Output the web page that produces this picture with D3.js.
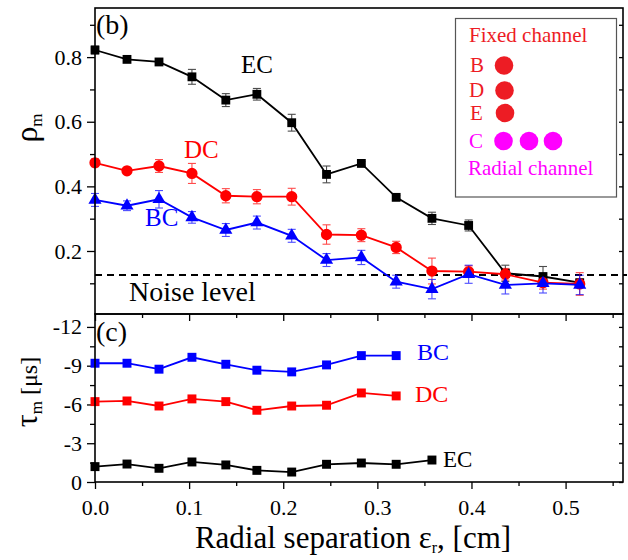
<!DOCTYPE html>
<html>
<head>
<meta charset="utf-8">
<script src="https://cdn.jsdelivr.net/npm/d3@7"></script>
<style>
  html, body { margin: 0; padding: 0; background: #fff; }
  svg { display: block; }
</style>
</head>
<body>
<svg id="chart" width="628" height="560"></svg>
<script>
// Radial separation of the moving channel [cm]
const xSep = [0, 0.034, 0.068, 0.103, 0.139, 0.172, 0.209, 0.246, 0.283, 0.32, 0.358, 0.397, 0.436, 0.476, 0.515];

// Panel (b): maximum cross-correlation rho_m with error bars
const rhoEC = [0.822, 0.793, 0.785, 0.739, 0.667, 0.685, 0.597, 0.437, 0.471, 0.366, 0.301, 0.279, 0.131, 0.121, 0.102];
const errEC = [0.012, 0.005, 0.005, 0.023, 0.020, 0.018, 0.026, 0.026, 0.006, 0.006, 0.019, 0.017, 0.025, 0.031, 0.010];
const rhoDC = [0.473, 0.448, 0.463, 0.440, 0.371, 0.368, 0.368, 0.251, 0.249, 0.211, 0.138, 0.136, 0.128, 0.102, 0.098];
const errDC = [0.012, 0.008, 0.020, 0.031, 0.022, 0.022, 0.026, 0.030, 0.020, 0.019, 0.040, 0.018, 0.018, 0.020, 0.035];
const rhoBC = [0.358, 0.340, 0.360, 0.304, 0.265, 0.288, 0.247, 0.172, 0.180, 0.105, 0.082, 0.128, 0.095, 0.100, 0.095];
const errBC = [0.020, 0.015, 0.027, 0.018, 0.020, 0.020, 0.020, 0.020, 0.022, 0.020, 0.030, 0.028, 0.028, 0.030, 0.030];
const noiseLevel = 0.126;

// Panel (c): time lag tau_m [us]
const tauBC = [-9.19, -9.19, -8.73, -9.65, -9.11, -8.65, -8.52, -9.06, -9.78, -9.78];
const tauDC = [-6.22, -6.27, -5.88, -6.43, -6.22, -5.55, -5.88, -5.94, -6.89, -6.66];
const tauEC = [-1.19, -1.39, -1.06, -1.55, -1.32, -0.90, -0.77, -1.37, -1.47, -1.37, -1.70];

// Tick values
const xTicks = [0, 0.1, 0.2, 0.3, 0.4, 0.5];
const xMinor = [0.05, 0.15, 0.25, 0.35, 0.45, 0.55];
const rhoTicks = [0.2, 0.4, 0.6, 0.8];
const rhoMinor = [0.1, 0.3, 0.5, 0.7, 0.9];
const tauTicks = [0, -3, -6, -9, -12];
const tauMinor = [-1.5, -4.5, -7.5, -10.5];

const FONT = "Liberation Serif";
const svg = d3.select("#chart");
const L = 95, R = 623, T1 = 8, B1 = 314, B2 = 482;

const x = d3.scaleLinear().domain([0, 0.561]).range([L, R]);
const yRho = d3.scaleLinear().domain([0.005, 0.952]).range([B1, T1]);
const yTau = d3.scaleLinear().domain([0, -13]).range([B2, B1]);

const FS = 22;

function styleAxis(g, withText) {
  g.style("font-family", FONT).style("font-size", FS + "px");
  g.select(".domain").remove();
  g.selectAll(".tick line").attr("stroke", "#000").attr("stroke-width", 1.3);
  g.selectAll(".tick text").attr("fill", "#000")
    .style("font-family", FONT).style("font-size", FS + "px");
  if (!withText) g.selectAll(".tick text").remove();
}

// ---------- Panel (b) axes ----------
svg.append("g").attr("transform", `translate(${L},0)`)
  .call(d3.axisLeft(yRho).tickValues(rhoTicks).tickSize(8).tickPadding(5).tickFormat(d3.format(".1f")))
  .call(g => styleAxis(g, true));
svg.append("g").attr("transform", `translate(${L},0)`)
  .call(d3.axisLeft(yRho).tickValues(rhoMinor).tickSize(5))
  .call(g => styleAxis(g, false));
svg.append("g").attr("transform", `translate(${R},0)`)
  .call(d3.axisLeft(yRho).tickValues(rhoTicks.concat(rhoMinor)).tickSize(4))
  .call(g => styleAxis(g, false));

// ---------- Panel (c) axes ----------
svg.append("g").attr("transform", `translate(${L},0)`)
  .call(d3.axisLeft(yTau).tickValues(tauTicks).tickSize(8).tickPadding(5).tickFormat(d => String(d)))
  .call(g => styleAxis(g, true));
svg.append("g").attr("transform", `translate(${L},0)`)
  .call(d3.axisLeft(yTau).tickValues(tauMinor).tickSize(5))
  .call(g => styleAxis(g, false));
svg.append("g").attr("transform", `translate(${R},0)`)
  .call(d3.axisLeft(yTau).tickValues(tauTicks.concat(tauMinor)).tickSize(4))
  .call(g => styleAxis(g, false));

svg.append("g").attr("transform", `translate(0,${B2})`)
  .call(d3.axisBottom(x).tickValues(xTicks).tickSize(7).tickPadding(10).tickFormat(d3.format(".1f")))
  .call(g => styleAxis(g, true));
svg.append("g").attr("transform", `translate(0,${B2})`)
  .call(d3.axisBottom(x).tickValues(xMinor).tickSize(4))
  .call(g => styleAxis(g, false));
svg.append("g").attr("transform", `translate(0,${B1})`)
  .call(d3.axisBottom(x).tickValues(xTicks).tickSize(7))
  .call(g => styleAxis(g, false));
svg.append("g").attr("transform", `translate(0,${B1})`)
  .call(d3.axisBottom(x).tickValues(xMinor).tickSize(4))
  .call(g => styleAxis(g, false));

// ---------- Noise level ----------
svg.append("line")
  .attr("x1", L).attr("x2", R + 4)
  .attr("y1", yRho(noiseLevel)).attr("y2", yRho(noiseLevel))
  .attr("stroke", "#000").attr("stroke-width", 2).attr("stroke-dasharray", "7,5");

// ---------- Series drawing helpers ----------
function drawErrorBars(xs, ys, es, scale, color) {
  const g = svg.append("g").attr("stroke", color).attr("stroke-width", 1.1).attr("opacity", 0.7);
  xs.forEach((xv, i) => {
    const cx = x(xv), y0 = scale(ys[i] - es[i]), y1 = scale(ys[i] + es[i]);
    g.append("line").attr("x1", cx).attr("x2", cx).attr("y1", y0).attr("y2", y1);
    g.append("line").attr("x1", cx - 4).attr("x2", cx + 4).attr("y1", y0).attr("y2", y0);
    g.append("line").attr("x1", cx - 4).attr("x2", cx + 4).attr("y1", y1).attr("y2", y1);
  });
}

function drawSeries(xs, ys, scale, color, symbolType, size) {
  const pts = ys.map((v, i) => [xs[i], v]);
  const line = d3.line().x(d => x(d[0])).y(d => scale(d[1]));
  svg.append("path").datum(pts).attr("d", line)
    .attr("fill", "none").attr("stroke", color).attr("stroke-width", 1.8);
  svg.append("g").selectAll("path").data(pts).join("path")
    .attr("transform", d => `translate(${x(d[0])},${scale(d[1])})`)
    .attr("d", d3.symbol().type(symbolType).size(size))
    .attr("fill", color);
}

// Panel (b) series
drawErrorBars(xSep, rhoEC, errEC, yRho, "#000");
drawErrorBars(xSep, rhoDC, errDC, yRho, "#ff0000");
drawErrorBars(xSep, rhoBC, errBC, yRho, "#0000ff");
drawSeries(xSep, rhoEC, yRho, "#000", d3.symbolSquare, 78);
drawSeries(xSep, rhoDC, yRho, "#ff0000", d3.symbolCircle, 100);
drawSeries(xSep, rhoBC, yRho, "#0000ff", d3.symbolTriangle, 75);

// Panel (c) series
drawSeries(xSep.slice(0, tauBC.length), tauBC, yTau, "#0000ff", d3.symbolSquare, 80);
drawSeries(xSep.slice(0, tauDC.length), tauDC, yTau, "#ff0000", d3.symbolSquare, 80);
drawSeries(xSep.slice(0, tauEC.length), tauEC, yTau, "#000", d3.symbolSquare, 80);

// ---------- Frames ----------
svg.append("rect").attr("x", L).attr("y", T1).attr("width", R - L).attr("height", B1 - T1)
  .attr("fill", "none").attr("stroke", "#000").attr("stroke-width", 1.6);
svg.append("rect").attr("x", L).attr("y", B1).attr("width", R - L).attr("height", B2 - B1)
  .attr("fill", "none").attr("stroke", "#000").attr("stroke-width", 1.6);

// ---------- Labels ----------
const lab = (tx, ty, s, c, fs) => svg.append("text").attr("x", tx).attr("y", ty)
  .style("font-family", FONT).style("font-size", fs + "px").attr("fill", c).text(s);
lab(129, 301, "Noise level", "#000", 28);
lab(96, 34, "(b)", "#000", 28);
lab(96, 341, "(c)", "#000", 28);
lab(241, 73, "EC", "#000", 25);
lab(184, 158, "DC", "#ff0000", 25);
lab(145, 226, "BC", "#0000ff", 25);
lab(417, 360, "BC", "#0000ff", 24);
lab(415, 402, "DC", "#ff0000", 24);
lab(443, 467, "EC", "#000", 23);

// ---------- Channel layout inset ----------
const fixedColor = "#ed1c24", radialColor = "#ff00ff";
svg.append("rect").attr("x", 455.5).attr("y", 18.5).attr("width", 161).attr("height", 178.5)
  .attr("fill", "#fff").attr("stroke", "#555").attr("stroke-width", 1.2);
lab(469, 42, "Fixed channel", fixedColor, 21);
lab(470, 72, "B", fixedColor, 21);
lab(469, 97, "D", fixedColor, 21);
lab(470, 120, "E", fixedColor, 21);
lab(469, 148, "C", radialColor, 21);
lab(468, 175, "Radial channel", radialColor, 21);
[[504, 65.5], [504.5, 90.5], [505, 113]].forEach(p =>
  svg.append("circle").attr("cx", p[0]).attr("cy", p[1]).attr("r", 9.3).attr("fill", fixedColor));
[[503.5, 141], [529, 141], [553, 141]].forEach(p =>
  svg.append("circle").attr("cx", p[0]).attr("cy", p[1]).attr("r", 9.3).attr("fill", radialColor));

// ---------- Axis titles (subscripts shifted in px, then restored) ----------
const xt = svg.append("text").attr("x", 353).attr("y", 548).attr("text-anchor", "middle")
  .style("font-family", FONT).style("font-size", "31px").attr("fill", "#000");
xt.append("tspan").text("Radial separation ε");
xt.append("tspan").attr("dy", 5).style("font-size", "16px").text("r");
xt.append("tspan").attr("dy", -5).text(", [cm]");

const yt1 = svg.append("text").attr("transform", "translate(37,128) rotate(-90)")
  .attr("text-anchor", "middle").style("font-family", FONT).style("font-size", "24px").attr("fill", "#000");
yt1.append("tspan").style("font-size", "32px").text("ρ");
yt1.append("tspan").attr("dy", 5).style("font-size", "17px").text("m");

const yt2 = svg.append("text").attr("transform", "translate(37,392) rotate(-90)")
  .attr("text-anchor", "middle").style("font-family", FONT).style("font-size", "24px").attr("fill", "#000");
yt2.append("tspan").style("font-size", "32px").text("τ");
yt2.append("tspan").attr("dy", 5).style("font-size", "17px").text("m");
yt2.append("tspan").attr("dy", -5).text(" [μs]");
</script>
</body>
</html>
